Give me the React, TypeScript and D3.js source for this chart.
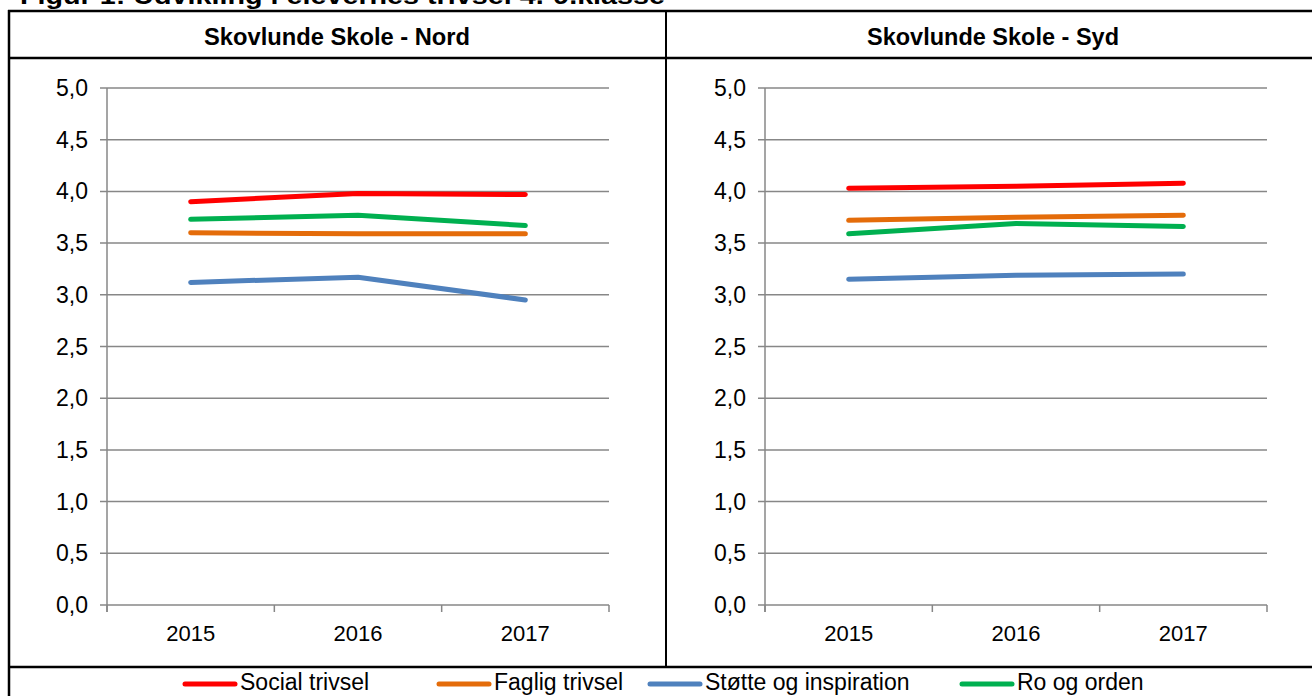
import React from "react";
import * as d3 from "d3";

const years = ["2015", "2016", "2017"];
const seriesNames = ["Social trivsel", "Faglig trivsel", "Støtte og inspiration", "Ro og orden"];
const seriesColors = ["#FF0000", "#E46C0A", "#4F81BD", "#00B050"];
const nordSocial = [3.90, 3.98, 3.97];
const nordFaglig = [3.60, 3.59, 3.59];
const nordStotte = [3.12, 3.17, 2.95];
const nordRo = [3.73, 3.77, 3.67];
const sydSocial = [4.03, 4.05, 4.08];
const sydFaglig = [3.72, 3.75, 3.77];
const sydStotte = [3.15, 3.19, 3.20];
const sydRo = [3.59, 3.69, 3.66];
const yTicks = [0, 0.5, 1, 1.5, 2, 2.5, 3, 3.5, 4, 4.5, 5];
const panelTitles = ["Skovlunde Skole - Nord", "Skovlunde Skole - Syd"];
const figTitle = "Figur 1: Udvikling i elevernes trivsel 4.-9.klasse";

const FONT = "'Liberation Sans', Arial, sans-serif";

function Panel({ x0, x1, data }: { x0: number; x1: number; data: number[][] }) {
  const y = d3.scaleLinear().domain([0, 5]).range([605, 88]);
  const x = d3.scaleBand().domain(years).range([x0, x1]);
  const line = d3
    .line<number>()
    .x((_, i) => (x(years[i]) as number) + x.bandwidth() / 2)
    .y((v) => y(v));
  const fmt = (v: number) => v.toFixed(1).replace(".", ",");
  const tickEdges = [x0, ...years.map((yr) => (x(yr) as number) + x.bandwidth())];
  return (
    <g>
      {yTicks.map((t) => (
        <g key={t}>
          <line x1={x0 - 7} x2={x1} y1={y(t)} y2={y(t)} stroke="#878787" strokeWidth={1.5} />
          <text x={x0 - 19} y={y(t)} dy="0.35em" textAnchor="end" fontSize={23} fontFamily={FONT} fill="#000">
            {fmt(t)}
          </text>
        </g>
      ))}
      <line x1={x0} x2={x0} y1={y(5)} y2={y(0) + 7} stroke="#878787" strokeWidth={1.5} />
      {tickEdges.map((e, i) => (
        <line key={i} x1={e} x2={e} y1={y(0)} y2={y(0) + 7} stroke="#878787" strokeWidth={1.5} />
      ))}
      {years.map((yr) => (
        <text key={yr} x={(x(yr) as number) + x.bandwidth() / 2} y={633} dy="0.35em" textAnchor="middle" fontSize={22} fontFamily={FONT} fill="#000">
          {yr}
        </text>
      ))}
      {data.map((s, i) => (
        <path key={i} d={line(s) || ""} fill="none" stroke={seriesColors[i]} strokeWidth={5} strokeLinecap="round" strokeLinejoin="round" />
      ))}
    </g>
  );
}

export default function App() {
  const nord = [nordSocial, nordFaglig, nordStotte, nordRo];
  const syd = [sydSocial, sydFaglig, sydStotte, sydRo];
  const legendX = [183, 437, 648, 960];
  return (
    <svg width={1312} height={696} style={{ position: "absolute", left: 0, top: 0, background: "#fff" }}>
      <rect x={0} y={0} width={1312} height={696} fill="#fff" />
      <text x={20} y={4} fontSize={23} fontWeight="bold" fontFamily={FONT} fill="#000" textLength={645} lengthAdjust="spacingAndGlyphs">
        {figTitle}
      </text>
      {/* table frame */}
      <line x1={8} x2={1312} y1={11} y2={11} stroke="#000" strokeWidth={2.5} />
      <line x1={8} x2={1312} y1={58} y2={58} stroke="#000" strokeWidth={2.5} />
      <line x1={8} x2={1312} y1={667} y2={667} stroke="#000" strokeWidth={2.5} />
      <line x1={9} x2={9} y1={10} y2={696} stroke="#000" strokeWidth={2.5} />
      <line x1={666} x2={666} y1={10} y2={667} stroke="#000" strokeWidth={2} />
      <text x={337} y={37} dy="0.35em" textAnchor="middle" fontSize={23} fontWeight="bold" fontFamily={FONT} textLength={266} lengthAdjust="spacingAndGlyphs">
        {panelTitles[0]}
      </text>
      <text x={993} y={37} dy="0.35em" textAnchor="middle" fontSize={23} fontWeight="bold" fontFamily={FONT} textLength={252} lengthAdjust="spacingAndGlyphs">
        {panelTitles[1]}
      </text>
      <Panel x0={107} x1={609} data={nord} />
      <Panel x0={765} x1={1267} data={syd} />
      {seriesNames.map((n, i) => (
        <g key={n}>
          <line x1={legendX[i] + 2} x2={legendX[i] + 52} y1={684} y2={684} stroke={seriesColors[i]} strokeWidth={5} strokeLinecap="round" />
          <text x={legendX[i] + 57} y={690} fontSize={23} fontFamily={FONT} fill="#000">
            {n}
          </text>
        </g>
      ))}
    </svg>
  );
}
